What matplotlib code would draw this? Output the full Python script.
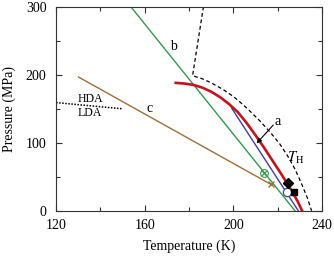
import matplotlib
matplotlib.use("Agg")
import matplotlib.pyplot as plt

# ---- data ----
# curve a (red)
a_T = [174, 178, 182, 186, 190, 194, 198, 202, 206, 210, 214, 218, 222, 226, 229, 231]
a_P = [188, 187, 185, 181, 175, 167, 157, 145, 129, 111, 92, 72, 52, 31, 14, 0]
# blue branch
blue_T = [199.2, 229.3]
blue_P = [151, 0]
# line b (green)
b_T = [153.7, 227.8]
b_P = [300, 0]
# line c (brown)
c_T = [130.1, 216.8]
c_P = [196.6, 39.0]
# T_H (dashed)
th_T = [186.5, 181.6, 186, 190, 195, 200, 204, 207, 212, 217, 221, 225, 228, 231, 233.5, 235.3]
th_P = [300, 198.5, 194, 188, 179, 168, 157, 148, 132, 114, 98, 78, 60, 38, 18, 0]
# HDA/LDA boundary (dotted)
hl_T = [120, 149.6]
hl_P = [159, 150]
# markers
circx_T, circx_P = [214.0], [56.0]
open_T, open_P = [224.1], [27.0]
diam_T, diam_P = [224.5], [41.0]
sq_T, sq_P = [227.5], [28.0]
cross_T, cross_P = [216.8], [39.0]

xticks = [120, 160, 200, 240]
yticks = [0, 100, 200, 300]

plt.rcParams['font.family'] = ['Liberation Serif', 'DejaVu Serif']
plt.rcParams['mathtext.fontset'] = 'stix'

fig = plt.figure(figsize=(3.34, 2.57), dpi=100)
ax = fig.add_axes([0.168, 0.180, 0.796, 0.794])

green = '#2f9a4c'
red = '#c4121e'
blue = '#3e3ea6'
brown = '#a26d36'

ax.plot(b_T, b_P, color=green, lw=1.0)
ax.plot(c_T, c_P, color=brown, lw=1.0)
ax.plot(blue_T, blue_P, color=blue, lw=1.0)
ax.plot(a_T, a_P, color=red, lw=1.9, solid_joinstyle='round')
ax.plot(th_T, th_P, color='black', lw=0.9, ls=(0, (3, 2.2)))
ax.plot(hl_T, hl_P, color='black', lw=1.1, ls=(0, (1, 1)))

ax.plot(circx_T, circx_P, marker='o', ms=5.5, mfc='none', mec=green, mew=0.8, ls='none')
ax.plot(circx_T, circx_P, marker='x', ms=3.8, mec=green, mew=0.8, ls='none')
ax.plot(cross_T, cross_P, marker='x', ms=5, mec=brown, mew=1.0, ls='none')
ax.plot(open_T, open_P, marker='o', ms=6, mfc='white', mec=blue, mew=0.9, ls='none')
ax.plot(diam_T, diam_P, marker='D', ms=5.5, color='black', ls='none')
ax.plot(sq_T, sq_P, marker='s', ms=5, color='black', ls='none')

ax.annotate('', xy=(210.5, 99), xytext=(218, 126),
            arrowprops=dict(arrowstyle='-|>', color='black', lw=0.8, mutation_scale=7,
                            shrinkA=0, shrinkB=0))
ax.text(220.0, 131, 'a', fontsize=10, ha='center', va='center')
ax.text(172.8, 241, 'b', fontsize=10, ha='center', va='center')
ax.text(162, 151, 'c', fontsize=10, ha='center', va='center')
ax.text(228.2, 78, r'$T_{\mathrm{H}}$', fontsize=10.5, ha='center', va='center')
ax.text(135.3, 164, 'HDA', fontsize=8.5, ha='center', va='center')
ax.text(135.3, 144, 'LDA', fontsize=8.5, ha='center', va='center')

ax.set_xlim(120, 240)
ax.set_ylim(0, 300)
ax.set_xticks(xticks)
ax.set_yticks(yticks)
ax.set_xticks([140, 180, 220], minor=True)
ax.set_yticks([50, 150, 250], minor=True)
ax.tick_params(which='both', direction='in', top=True, right=True,
               labelsize=10, color='#333333', width=0.8)
ax.tick_params(which='major', length=4)
ax.tick_params(which='minor', length=3)
ax.tick_params(axis='x', pad=6)
ax.tick_params(axis='y', pad=7)
for s in ax.spines.values():
    s.set_color('#333333')
    s.set_linewidth(0.8)
ax.set_xlabel('Temperature (K)', fontsize=10, labelpad=5)
ax.set_ylabel('Pressure (MPa)', fontsize=10, labelpad=7)

fig.savefig('out.png', dpi=100)
